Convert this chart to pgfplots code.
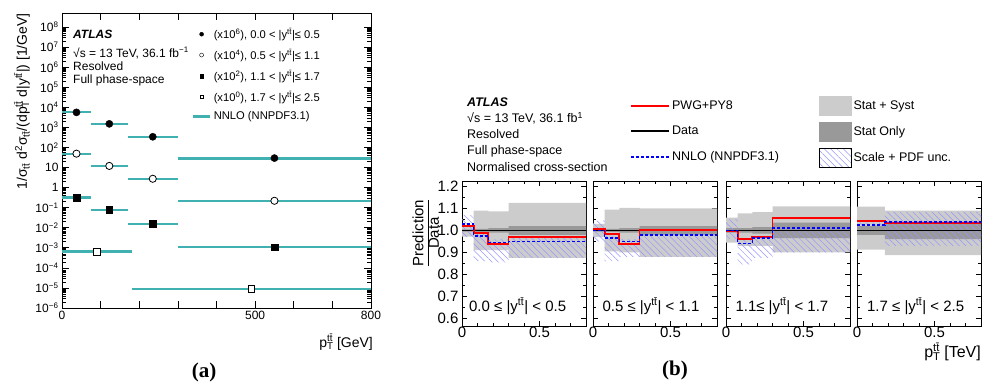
\documentclass[border=0pt]{standalone}
\usepackage{pgfplots}
\pgfplotsset{compat=1.18}
\usetikzlibrary{patterns.meta}
\usepackage{fontspec}
\setmainfont{Liberation Sans}
\newfontfamily\serifbf{Liberation Serif}
\definecolor{nnloteal}{RGB}{64,176,176}
\definecolor{lgray}{RGB}{204,204,204}
\definecolor{dgray}{RGB}{153,153,153}
\definecolor{hatchblue}{RGB}{150,150,255}
\definecolor{pwgred}{RGB}{255,0,0}
\definecolor{nnloblue}{RGB}{0,0,255}
\newcommand{\ttb}{t\={t}}
\newcommand{\fs}[1]{\fontsize{#1}{#1}\selectfont}
\pgfplotsset{
  ratio/.style={
    scale only axis, width=124pt, height=145pt, anchor=south west,
    xmin=0, xmax=0.8, ymin=0.565, ymax=1.225,
    xtick={0,0.5}, xticklabels={0,0.5},
    minor xtick={0.1,0.2,0.3,0.4,0.6,0.7},
    ytick={0.6,0.7,0.8,0.9,1.0,1.1,1.2},
    minor ytick={0.65,0.75,0.85,0.95,1.05,1.15},
    tick align=inside, major tick length=5pt, minor tick length=3pt,
    tick style={black, line width=0.6pt},
    ticklabel style={font=\fs{15}},
    xticklabel style={inner sep=1pt},
    axis line style={line width=0.8pt},
  },
  syst/.style={fill=lgray, draw=none, forget plot},
  stat/.style={fill=dgray, draw=none, forget plot},
  hatch/.style={pattern={Lines[angle=-45,distance=4.5pt,line width=0.5pt]}, pattern color=hatchblue, draw=none, forget plot},
  datal/.style={black, line width=1.6pt, forget plot},
  pwg/.style={pwgred, line width=1.9pt, const plot, forget plot},
  nnlo/.style={nnloblue, line width=1.7pt, dash pattern=on 3pt off 2pt, const plot, forget plot},
}
\begin{document}
\begin{tikzpicture}
\useasboundingbox (0pt,0pt) rectangle (983pt,381pt);
% ---------------- (a) ----------------
\begin{axis}[
  at={(62pt,73pt)}, anchor=south west, scale only axis, width=309pt, height=295pt,
  xmin=0, xmax=800, ymode=log, ymin=1e-6, ymax=5e8,
  xtick={0,100,200,300,400,500,600,700,800},
  xticklabels={0,,,,,500,,,800},
  ytick={1e-6,1e-5,1e-4,1e-3,1e-2,1e-1,1,10,100,1e3,1e4,1e5,1e6,1e7,1e8},
  yticklabels={10\textsuperscript{−6},10\textsuperscript{−5},10\textsuperscript{−4},10\textsuperscript{−3},10\textsuperscript{−2},10\textsuperscript{−1},1,10,10\textsuperscript{2},10\textsuperscript{3},10\textsuperscript{4},10\textsuperscript{5},10\textsuperscript{6},10\textsuperscript{7},10\textsuperscript{8}},
  tick align=inside, major tick length=7pt, minor tick length=4pt,
  tick style={black, line width=0.6pt},
  ticklabel style={font=\fs{12}},
  axis line style={line width=0.8pt},
  unbounded coords=jump,
  legend style={at={(0.42,0.957)}, anchor=north west, draw=none, fill=none, font=\fs{11.2}, legend cell align=left, row sep=4.2pt, inner sep=0pt, nodes={inner sep=2.5pt}},
]
\addlegendimage{only marks, mark=*, mark size=2pt, black}
\addlegendentry{(x10\textsuperscript{6}), 0.0 < |y\textsuperscript{\ttb}|≤ 0.5}
\addlegendimage{only marks, mark=*, mark size=2pt, black, mark options={fill=white}}
\addlegendentry{(x10\textsuperscript{4}), 0.5 < |y\textsuperscript{\ttb}|≤ 1.1}
\addlegendimage{only marks, mark=square*, mark size=1.8pt, black}
\addlegendentry{(x10\textsuperscript{2}), 1.1 < |y\textsuperscript{\ttb}|≤ 1.7}
\addlegendimage{only marks, mark=square*, mark size=1.8pt, black, mark options={fill=white}}
\addlegendentry{(x10\textsuperscript{0}), 1.7 < |y\textsuperscript{\ttb}|≤ 2.5}
\addlegendimage{nnloteal, line width=2.2pt}
\addlegendentry{NNLO (NNPDF3.1)}
% NNLO predictions
\addplot[nnloteal, line width=2.2pt, forget plot] coordinates {(0,5800)(75,5800)(75,nan)(75,1460)(170,1460)(170,nan)(170,321)(300,321)(300,nan)(300,28)(800,28)};
\addplot[nnloteal, line width=2.2pt, forget plot] coordinates {(0,49)(75,49)(75,nan)(75,11.6)(170,11.6)(170,nan)(170,2.6)(300,2.6)(300,nan)(300,0.216)(800,0.216)};
\addplot[nnloteal, line width=2.2pt, forget plot] coordinates {(0,0.32)(75,0.32)(75,nan)(75,0.074)(170,0.074)(170,nan)(170,0.0155)(300,0.0155)(300,nan)(300,1.06e-3)(800,1.06e-3)};
\addplot[nnloteal, line width=2.2pt, forget plot] coordinates {(0,6.5e-4)(180,6.5e-4)(180,nan)(180,9.2e-6)(800,9.2e-6)};
% data
\addplot[only marks, mark=*, mark size=3.6pt, black, forget plot] coordinates {(37.5,5600)(122.5,1500)(235,340)(550,29.5)};
\addplot[only marks, mark=*, mark size=3.6pt, black, mark options={fill=white, line width=0.8pt}, forget plot] coordinates {(37.5,49)(122.5,12)(235,2.75)(550,0.22)};
\addplot[only marks, mark=square*, mark size=3.3pt, black, forget plot] coordinates {(37.5,0.32)(122.5,0.079)(235,0.016)(550,1.05e-3)};
\addplot[only marks, mark=square*, mark size=3.3pt, black, mark options={fill=white, line width=0.8pt}, forget plot] coordinates {(90,6.3e-4)(490,8.9e-6)};
\end{axis}
\node[rotate=90, anchor=east, font=\fs{14}, inner sep=0pt] at (22pt,368pt) {1/σ\textsubscript{\ttb} d\textsuperscript{2}σ\textsubscript{\ttb}/(dp\rlap{\textsubscript{T}}\textsuperscript{\ttb} d|y\textsuperscript{\ttb}|) [1/GeV]};
\node[anchor=east, font=\fs{14}, inner sep=0pt] at (373pt,39pt) {p\rlap{\textsubscript{T}}\textsuperscript{\ttb} [GeV]};
\node[anchor=west, font=\fs{12}\bfseries\itshape, inner sep=0pt] at (73pt,347pt) {ATLAS};
\node[anchor=west, font=\fs{12}, inner sep=0pt] at (73pt,328pt) {√s = 13 TeV, 36.1 fb\textsuperscript{−1}};
\node[anchor=west, font=\fs{12}, inner sep=0pt] at (73pt,315pt) {Resolved};
\node[anchor=west, font=\fs{12}, inner sep=0pt] at (73pt,301pt) {Full phase-space};
\node[font=\fs{21}\serifbf\bfseries] at (204pt,9pt) {(a)};
% ---------------- (b) panel 1 ----------------
\begin{axis}[ratio, at={(462pt,55pt)}, yticklabels={0.6,0.7,0.8,0.9,1.0,1.1,1.2}]
\addplot[syst] coordinates {(0,1.025)(0.075,1.025)(0.075,1.09)(0.17,1.09)(0.17,1.087)(0.3,1.087)(0.3,1.125)(0.8,1.125)(0.8,0.875)(0.3,0.875)(0.3,0.91)(0.17,0.91)(0.17,0.91)(0.075,0.91)(0.075,0.972)(0,0.972)} -- cycle;
\addplot[stat] coordinates {(0,1.005)(0.075,1.005)(0.075,1.007)(0.17,1.007)(0.17,1.01)(0.3,1.01)(0.3,1.02)(0.8,1.02)(0.8,0.98)(0.3,0.98)(0.3,0.99)(0.17,0.99)(0.17,0.993)(0.075,0.993)(0.075,0.995)(0,0.995)} -- cycle;
\addplot[hatch] coordinates {(0,1.07)(0.075,1.07)(0.075,0.99)(0.17,0.99)(0.17,0.96)(0.3,0.96)(0.3,0.97)(0.8,0.97)(0.8,0.875)(0.3,0.875)(0.3,0.855)(0.17,0.855)(0.17,0.86)(0.075,0.86)(0.075,0.97)(0,0.97)} -- cycle;
\addplot[datal] coordinates {(0,1)(0.8,1)};
\addplot[pwg] coordinates {(0,1.022)(0.075,0.99)(0.17,0.94)(0.3,0.97)(0.8,0.97)};
\addplot[nnlo] coordinates {(0,1.03)(0.075,0.975)(0.17,0.945)(0.3,0.95)(0.8,0.95)};
\node[anchor=west, font=\fs{15}, inner sep=0pt] at (rel axis cs:0.056,0.138) {0.0 ≤ |y\textsuperscript{\ttb}| < 0.5};
\end{axis}
% ---------------- panel 2 ----------------
\begin{axis}[ratio, at={(593pt,55pt)}, yticklabels={}]
\addplot[syst] coordinates {(0,1.03)(0.075,1.03)(0.075,1.095)(0.17,1.095)(0.17,1.103)(0.3,1.103)(0.3,1.1)(0.8,1.1)(0.8,0.88)(0.3,0.88)(0.3,0.9)(0.17,0.9)(0.17,0.905)(0.075,0.905)(0.075,0.97)(0,0.97)} -- cycle;
\addplot[stat] coordinates {(0,1.005)(0.075,1.005)(0.075,1.007)(0.17,1.007)(0.17,1.01)(0.3,1.01)(0.3,1.02)(0.8,1.02)(0.8,0.98)(0.3,0.98)(0.3,0.99)(0.17,0.99)(0.17,0.993)(0.075,0.993)(0.075,0.995)(0,0.995)} -- cycle;
\addplot[hatch] coordinates {(0,1.045)(0.075,1.045)(0.075,0.975)(0.17,0.975)(0.17,0.96)(0.3,0.96)(0.3,0.985)(0.8,0.985)(0.8,0.88)(0.3,0.88)(0.3,0.88)(0.17,0.88)(0.17,0.86)(0.075,0.86)(0.075,0.95)(0,0.95)} -- cycle;
\addplot[datal] coordinates {(0,1)(0.8,1)};
\addplot[pwg] coordinates {(0,1.005)(0.075,0.985)(0.17,0.94)(0.3,1.003)(0.8,1.003)};
\addplot[nnlo] coordinates {(0,1.0)(0.075,0.965)(0.17,0.95)(0.3,0.98)(0.8,0.98)};
\node[anchor=west, font=\fs{15}, inner sep=0pt] at (rel axis cs:0.075,0.138) {0.5 ≤ |y\textsuperscript{\ttb}| < 1.1};
\end{axis}
% ---------------- panel 3 ----------------
\begin{axis}[ratio, at={(726pt,55pt)}, yticklabels={}]
\addplot[syst] coordinates {(0,1.058)(0.075,1.058)(0.075,1.078)(0.17,1.078)(0.17,1.083)(0.3,1.083)(0.3,1.11)(0.8,1.11)(0.8,0.9)(0.3,0.9)(0.3,0.93)(0.17,0.93)(0.17,0.93)(0.075,0.93)(0.075,0.945)(0,0.945)} -- cycle;
\addplot[stat] coordinates {(0,1.01)(0.075,1.01)(0.075,1.01)(0.17,1.01)(0.17,1.015)(0.3,1.015)(0.3,1.035)(0.8,1.035)(0.8,0.965)(0.3,0.965)(0.3,0.985)(0.17,0.985)(0.17,0.99)(0.075,0.99)(0.075,0.99)(0,0.99)} -- cycle;
\addplot[hatch] coordinates {(0,1.05)(0.075,1.05)(0.075,0.96)(0.17,0.96)(0.17,0.97)(0.3,0.97)(0.3,1.015)(0.8,1.015)(0.8,0.9)(0.3,0.9)(0.3,0.875)(0.17,0.875)(0.17,0.845)(0.075,0.845)(0.075,0.96)(0,0.96)} -- cycle;
\addplot[datal] coordinates {(0,1)(0.8,1)};
\addplot[pwg] coordinates {(0,0.995)(0.075,0.962)(0.17,0.97)(0.3,1.058)(0.8,1.058)};
\addplot[nnlo] coordinates {(0,1.0)(0.075,0.94)(0.17,0.965)(0.3,1.01)(0.8,1.01)};
\node[anchor=west, font=\fs{15}, inner sep=0pt] at (rel axis cs:0.075,0.138) {1.1≤ |y\textsuperscript{\ttb}| < 1.7};
\end{axis}
% ---------------- panel 4 ----------------
\begin{axis}[ratio, at={(857pt,55pt)}, yticklabels={}]
\addplot[syst] coordinates {(0,1.108)(0.18,1.108)(0.18,1.09)(0.8,1.09)(0.8,0.888)(0.18,0.888)(0.18,0.913)(0,0.913)} -- cycle;
\addplot[stat] coordinates {(0,1.02)(0.18,1.02)(0.18,1.04)(0.8,1.04)(0.8,0.96)(0.18,0.96)(0.18,0.98)(0,0.98)} -- cycle;
\addplot[hatch] coordinates {(0,1.035)(0.18,1.035)(0.18,1.085)(0.8,1.085)(0.8,0.93)(0.18,0.93)(0.18,1.015)(0,1.015)} -- cycle;
\addplot[datal] coordinates {(0,1)(0.8,1)};
\addplot[pwg] coordinates {(0,1.042)(0.18,1.032)(0.8,1.032)};
\addplot[nnlo] coordinates {(0,1.026)(0.18,1.038)(0.8,1.038)};
\node[anchor=west, font=\fs{15}, inner sep=0pt] at (rel axis cs:0.08,0.138) {1.7 ≤ |y\textsuperscript{\ttb}| < 2.5};
\end{axis}
% legends for (b)
\begin{axis}[at={(462pt,55pt)}, anchor=south west, scale only axis, width=124pt, height=145pt, hide axis, xmin=0, xmax=1, ymin=0, ymax=1,
  legend style={at={(1.355,1.586)}, anchor=north west, draw=none, fill=none, font=\fs{12.5}, legend cell align=left, row sep=6.5pt, inner sep=0pt, nodes={inner sep=2pt}}]
\addlegendimage{legend image code/.code={\path[draw=none,fill=none] (0pt,-9.5pt) rectangle (38pt,9.5pt); \draw[pwgred, line width=1.9pt] (0pt,0pt) -- (38pt,0pt);}}
\addlegendentry{PWG+PY8}
\addlegendimage{legend image code/.code={\path[draw=none,fill=none] (0pt,-9.5pt) rectangle (38pt,9.5pt); \draw[black, line width=1.6pt] (0pt,0pt) -- (38pt,0pt);}}
\addlegendentry{Data}
\addlegendimage{legend image code/.code={\path[draw=none,fill=none] (0pt,-9.5pt) rectangle (38pt,9.5pt); \draw[nnloblue, line width=1.7pt, dash pattern=on 3pt off 2pt] (0pt,0pt) -- (38pt,0pt);}}
\addlegendentry{NNLO (NNPDF3.1)}
\end{axis}
\begin{axis}[at={(726pt,55pt)}, anchor=south west, scale only axis, width=124pt, height=145pt, hide axis, xmin=0, xmax=1, ymin=0, ymax=1,
  legend style={at={(0.75,1.586)}, anchor=north west, draw=none, fill=none, font=\fs{12.5}, legend cell align=left, row sep=6.5pt, inner sep=0pt, nodes={inner sep=2pt}}]
\addlegendimage{legend image code/.code={\fill[lgray] (0pt,-9.5pt) rectangle (32pt,9.5pt);}}
\addlegendentry{Stat + Syst}
\addlegendimage{legend image code/.code={\fill[dgray] (0pt,-9.5pt) rectangle (32pt,9.5pt);}}
\addlegendentry{Stat Only}
\addlegendimage{legend image code/.code={\fill[pattern={Lines[angle=-45,distance=4.5pt,line width=0.5pt]}, pattern color=hatchblue] (0pt,-9.5pt) rectangle (32pt,9.5pt);}}
\addlegendentry{Scale + PDF unc.}
\end{axis}
% texts (b)
\node[anchor=west, font=\fs{12.5}\bfseries\itshape, inner sep=0pt] at (467pt,279pt) {ATLAS};
\node[anchor=west, font=\fs{12.5}, inner sep=0pt] at (467pt,263pt) {√s = 13 TeV, 36.1 fb\textsuperscript{1}};
\node[anchor=west, font=\fs{12.5}, inner sep=0pt] at (467pt,247pt) {Resolved};
\node[anchor=west, font=\fs{12.5}, inner sep=0pt] at (467pt,230pt) {Full phase-space};
\node[anchor=west, font=\fs{12.5}, inner sep=0pt] at (467pt,214pt) {Normalised cross-section};
\node[rotate=90, font=\fs{15}, inner sep=0pt] at (428pt,148pt) {\begin{tabular}{@{}c@{}}Prediction\\\hline Data\end{tabular}};
\node[anchor=east, font=\fs{16}, inner sep=0pt] at (981pt,29pt) {p\rlap{\textsubscript{T}}\textsuperscript{\ttb} [TeV]};
\node[font=\fs{21}\serifbf\bfseries] at (675pt,11pt) {(b)};
\end{tikzpicture}
\end{document}
